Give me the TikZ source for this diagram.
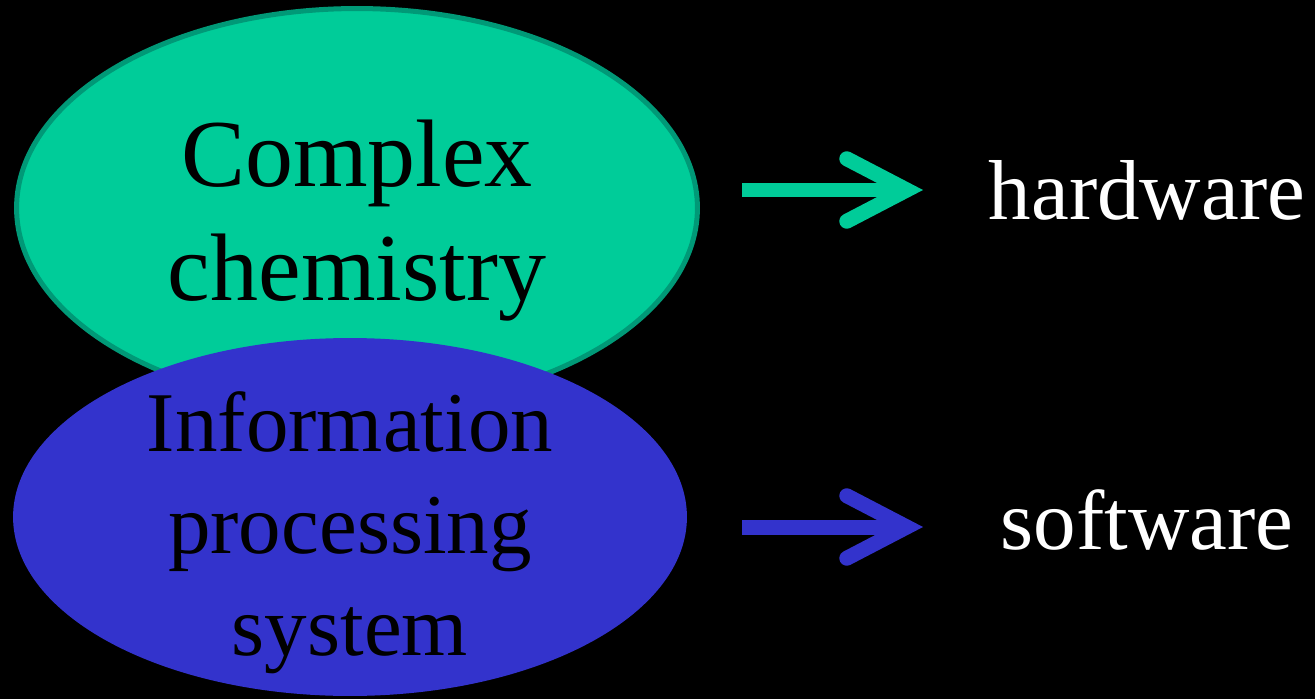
\documentclass[tikz,border=0pt]{standalone}
\usepackage{fontspec}
\setmainfont{Liberation Serif}
\usetikzlibrary{shapes.geometric,arrows.meta}
\definecolor{chemgreen}{HTML}{00CC99}
\definecolor{chemedge}{HTML}{009977}
\definecolor{infoblue}{HTML}{3333CC}
\begin{document}
\begin{tikzpicture}[x=0.02cm,y=-0.02cm,
        blob/.style={ellipse,inner sep=0pt,align=center,text=black,font=\fontsize{54.6}{64.9}\selectfont},
        sidetext/.style={anchor=base,text=white,font=\fontsize{48.4}{58}\selectfont},
        link/.style={line width=0.3cm,-{Straight Barb[length=1.2cm,width=1.25cm,line cap=round,line join=miter]}}]
        % background and page size
        \fill[black] (0,0) rectangle (1315,699);
        \useasboundingbox (0,0) rectangle (1315,699);
        \node[blob,fill=chemgreen,draw=chemedge,line width=0.1cm,minimum width=13.62cm,minimum height=7.98cm] (chem) at (357,208) {};
        \node[blob] (chemtext) at (357,221) {Complex\\chemistry};
        \node[blob,fill=infoblue,minimum width=13.48cm,minimum height=7.16cm] (info) at (350,517) {};
        \node[blob,font=\fontsize{48.4}{58}\selectfont] (infotext) at (350,533) {Information\\processing\\system};
        \node[sidetext] (hw) at (1147,220) {hardware};
        \node[sidetext] (sw) at (1147,549) {software};
        % arrows
        \coordinate (hwstart) at (742,190);
        \coordinate (hwtip) at (923,190);
        \coordinate (swstart) at (742,527);
        \coordinate (swtip) at (923,527);
        \draw[link,chemgreen] (hwstart) -- (hwtip);
        \draw[link,infoblue] (swstart) -- (swtip);
\end{tikzpicture}
\end{document}
